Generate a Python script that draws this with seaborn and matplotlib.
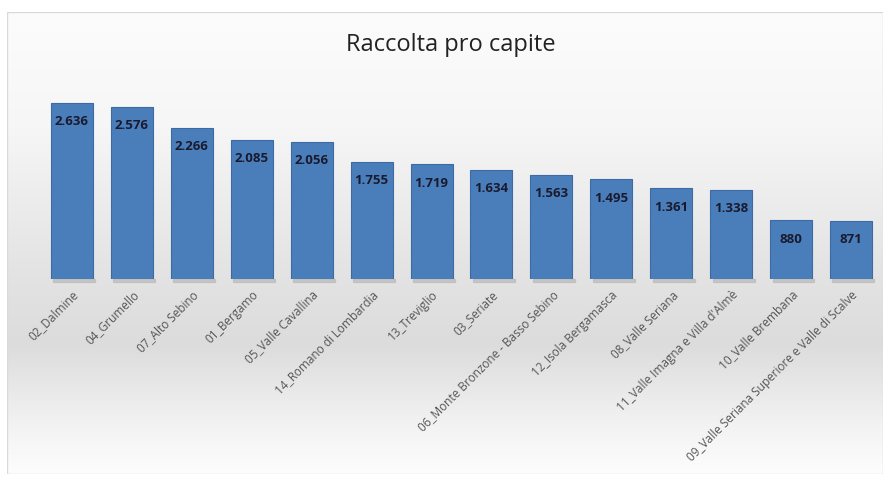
import numpy as np
import pandas as pd
import matplotlib
matplotlib.use("Agg")
import matplotlib.pyplot as plt
from matplotlib.colors import LinearSegmentedColormap
import seaborn as sns

ambiti = [
    "02_Dalmine", "04_Grumello", "07_Alto Sebino", "01_Bergamo",
    "05_Valle Cavallina", "14_Romano di Lombardia", "13_Treviglio",
    "03_Seriate", "06_Monte Bronzone - Basso Sebino", "12_Isola Bergamasca",
    "08_Valle Seriana", "11_Valle Imagna e Villa d'Almè", "10_Valle Brembana",
    "09_Valle Seriana Superiore e Valle di Scalve",
]
raccolta = [2636, 2576, 2266, 2085, 2056, 1755, 1719, 1634, 1563, 1495,
            1361, 1338, 880, 871]
etichette = ["2.636", "2.576", "2.266", "2.085", "2.056", "1.755", "1.719",
             "1.634", "1.563", "1.495", "1.361", "1.338", "880", "871"]

df = pd.DataFrame({"ambito": ambiti, "raccolta": raccolta})

sns.set_theme(style="white")
plt.rcParams["font.family"] = ["Open Sans", "DejaVu Sans"]

W, H = 883, 481
fig = plt.figure(figsize=(W / 100, H / 100), dpi=100)
fig.patch.set_facecolor("white")

# chart-area background: vertical gray gradient inside a thin frame
bg = fig.add_axes([7 / W, 6 / H, 876 / W, 462 / H])
grad = LinearSegmentedColormap.from_list(
    "bg", [(0.0, "#fcfcfc"), (0.25, "#f6f6f6"), (0.55, "#e4e4e4"),
           (0.72, "#dcdcdc"), (0.9, "#f3f3f3"), (1.0, "#fdfdfd")])
bg.imshow(np.linspace(0, 1, 256).reshape(-1, 1), aspect="auto", cmap=grad,
          extent=[0, 1, 1, 0])
bg.set_xlim(0, 1)
bg.set_ylim(1, 0)
bg.axis("off")
frame = plt.Rectangle((0, 0), 1, 1, transform=bg.transAxes, fill=False,
                      edgecolor="#d9d9d9", linewidth=1.0)
bg.add_patch(frame)

ax = fig.add_axes([42 / W, (H - 280) / H, 839 / W, 187 / H])
ax.patch.set_alpha(0)
sns.barplot(data=df, x="ambito", y="raccolta", color="#4a7ebb",
            width=0.7, saturation=1, ax=ax, edgecolor="#3c6aa3", linewidth=0.8)

# soft shadow under bars
for p in ax.patches:
    x0 = p.get_x()
    w = p.get_width()
    ax.add_patch(plt.Rectangle((x0 + 0.04, -40), w, 40, color="#9a9a9a",
                               alpha=0.35, zorder=0, clip_on=False))

for i, (v, t) in enumerate(zip(raccolta, etichette)):
    ax.text(i, v - 270, t, ha="center", va="center", fontsize=9.5,
            fontweight="bold", color="#1a1a2e")

ax.set_xlim(-0.5, 13.5)
ax.set_ylim(0, 2800)
ax.set_yticks([])
ax.set_xlabel("")
ax.set_ylabel("")
for s in ax.spines.values():
    s.set_visible(False)
ax.tick_params(axis="x", length=0, pad=6)
ax.set_xticks(range(len(ambiti)))
ax.set_xticklabels(ambiti, rotation=45, ha="right", rotation_mode="anchor",
                   fontsize=8.5, color="#555555")

fig.text(451 / W, 1 - 45 / H, "Raccolta pro capite", ha="center",
         va="center", fontsize=17, color="#222222")

fig.savefig("out.png", dpi=100)
